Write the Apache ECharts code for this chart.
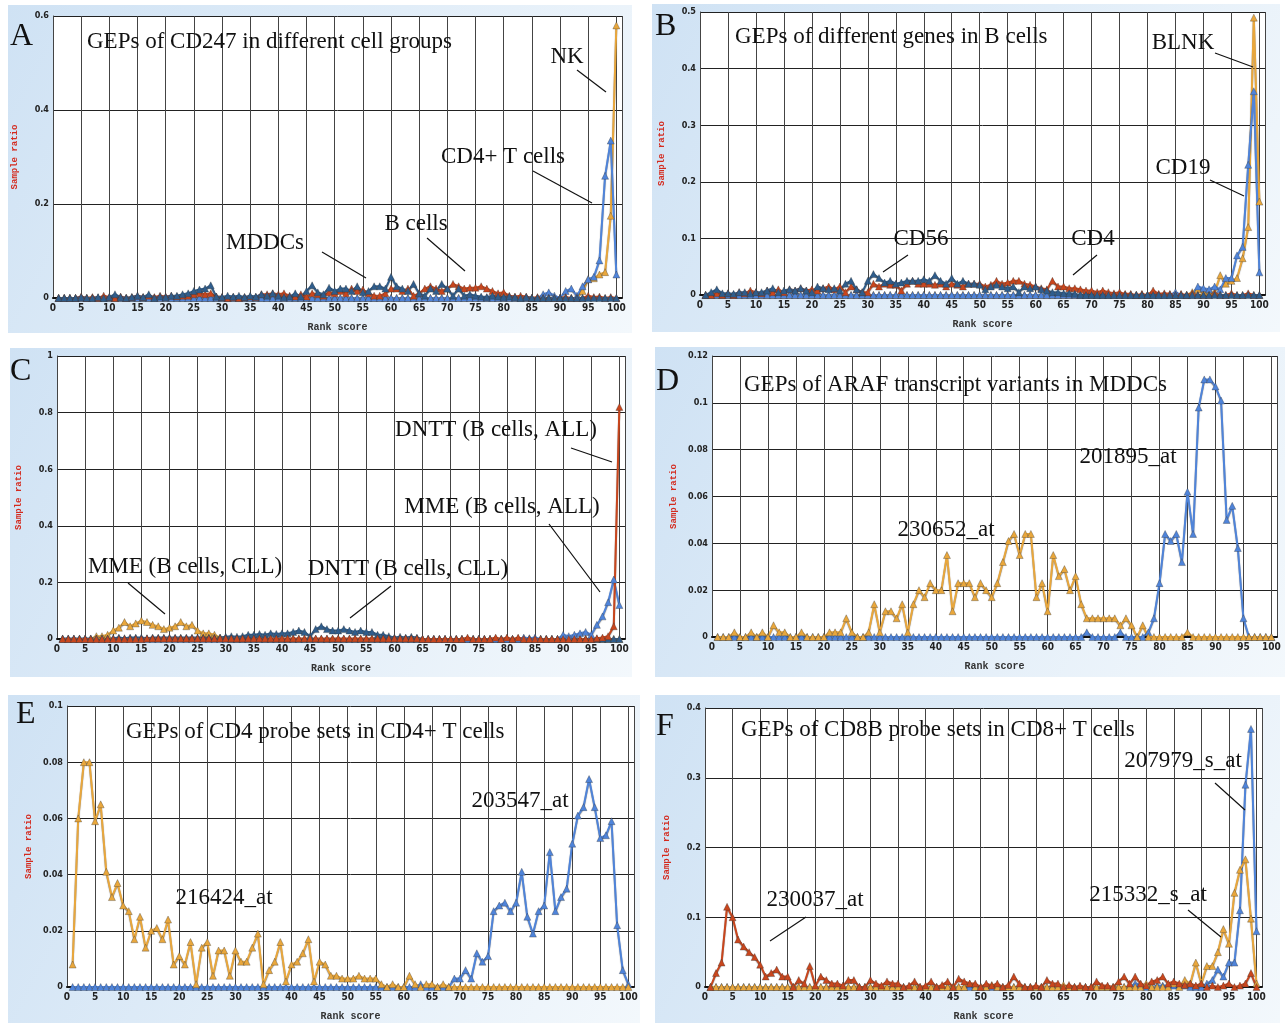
<!DOCTYPE html>
<html>
<head>
<meta charset="utf-8">
<script src="https://cdn.jsdelivr.net/npm/echarts@6/dist/echarts.min.js"></script>
<style>
  html, body { margin: 0; padding: 0; background: #fff; }
  #main { width: 1288px; height: 1023px; }
</style>
</head>
<body>
<div id="main"></div>
<script>
// rank scores 1..100 on the x axis
const ranks = Array.from({ length: 100 }, (_, i) => i + 1)
const xTicks = [0, 5, 10, 15, 20, 25, 30, 35, 40, 45, 50, 55, 60, 65, 70, 75, 80, 85, 90, 95, 100]

// panel A: CD247
const aBcells = [
  0, 0, 0, 0, 0.003, 0, 0.002, 0, 0.005, 0.002,
  0, 0.003, 0, 0.002, 0.005, 0.002, 0.005, 0.002, 0.005, 0.003,
  0.005, 0.003, 0.005, 0.005, 0.008, 0.01, 0.008, 0.01, 0.003, 0.002,
  0, 0.002, 0, 0.002, 0.003, 0.002, 0.008, 0.008, 0.01, 0.008,
  0.01, 0.005, 0.003, 0.008, 0.003, 0.01, 0.008, 0.005, 0.012, 0.01,
  0.015, 0.01, 0.02, 0.015, 0.018, 0.01, 0.005, 0.005, 0.01, 0.02,
  0.02, 0.015, 0.02, 0.005, 0.01, 0.02, 0.025, 0.02, 0.015, 0.02,
  0.03, 0.025, 0.02, 0.022, 0.022, 0.025, 0.02, 0.015, 0.01, 0.012,
  0.005, 0.003, 0.005, 0.003, 0, 0.002, 0, 0, 0, 0,
  0.002, 0, 0, 0, 0.005, 0.002, 0.003, 0, 0.002, 0
]
const aMDDCs = [
  0, 0, 0, 0, 0.002, 0, 0, 0.002, 0, 0.002,
  0.008, 0.002, 0, 0.002, 0.005, 0.002, 0.008, 0, 0.003, 0.002,
  0.005, 0.005, 0.008, 0.01, 0.015, 0.018, 0.02, 0.027, 0.003, 0.002,
  0.005, 0.003, 0.005, 0.002, 0.005, 0.003, 0.008, 0.005, 0.01, 0.005,
  0.002, 0.003, 0.01, 0.003, 0.015, 0.027, 0.012, 0.008, 0.022, 0.015,
  0.02, 0.02, 0.015, 0.025, 0.012, 0.015, 0.025, 0.025, 0.02, 0.045,
  0.025, 0.02, 0.015, 0.03, 0.01, 0.005, 0.02, 0.015, 0.03, 0.02,
  0.005, 0.02, 0.005, 0.008, 0.005, 0.003, 0.002, 0.005, 0.003, 0.002,
  0.003, 0.002, 0, 0.002, 0, 0, 0, 0, 0, 0,
  0, 0, 0, 0, 0, 0, 0, 0, 0, 0
]
const aCD4T = [
  0, 0, 0, 0, 0, 0, 0, 0, 0, 0,
  0, 0, 0, 0, 0, 0, 0, 0, 0, 0,
  0, 0, 0, 0, 0, 0, 0, 0, 0, 0,
  0, 0, 0, 0, 0, 0, 0, 0, 0, 0,
  0, 0, 0, 0, 0, 0, 0, 0, 0, 0,
  0, 0, 0, 0, 0, 0, 0, 0, 0, 0,
  0, 0, 0, 0, 0, 0, 0, 0, 0, 0,
  0, 0, 0, 0, 0, 0, 0, 0, 0, 0,
  0, 0, 0, 0, 0, 0, 0.008, 0.012, 0.005, 0,
  0.015, 0.02, 0.005, 0.025, 0.04, 0.045, 0.08, 0.26, 0.335, 0.05
]
const aNK = [
  0, 0, 0, 0, 0, 0, 0, 0, 0, 0,
  0, 0, 0, 0, 0, 0, 0, 0, 0, 0,
  0, 0, 0, 0, 0, 0, 0, 0, 0, 0,
  0, 0, 0, 0, 0, 0, 0, 0, 0, 0,
  0, 0, 0, 0, 0, 0, 0, 0, 0, 0,
  0, 0, 0, 0, 0, 0, 0, 0, 0, 0,
  0, 0, 0, 0, 0, 0, 0, 0, 0, 0,
  0, 0, 0, 0, 0, 0, 0, 0, 0, 0,
  0, 0, 0, 0, 0, 0, 0, 0, 0, 0,
  0, 0, 0, 0.015, 0.04, 0.042, 0.05, 0.055, 0.175, 0.58
]

// panel B: genes in B cells
const bCD4 = [
  0, 0, 0.003, 0, 0.003, 0, 0.005, 0.003, 0.008, 0.005,
  0.003, 0.008, 0.005, 0.01, 0.005, 0.01, 0.008, 0.012, 0.008, 0.01,
  0.008, 0.012, 0.015, 0.01, 0.015, 0.005, 0.015, 0.01, 0.005, 0.005,
  0.02, 0.015, 0.02, 0.018, 0.018, 0.008, 0.02, 0.025, 0.02, 0.02,
  0.02, 0.018, 0.02, 0.015, 0.02, 0.018, 0.015, 0.02, 0.02, 0.02,
  0.015, 0.018, 0.025, 0.02, 0.022, 0.025, 0.025, 0.02, 0.018, 0.015,
  0.012, 0.01, 0.025, 0.015, 0.015, 0.012, 0.012, 0.01, 0.008, 0.008,
  0.005, 0.008, 0.005, 0.003, 0.005, 0.002, 0.002, 0, 0.002, 0,
  0.008, 0.002, 0.003, 0.002, 0, 0.002, 0, 0.003, 0, 0,
  0, 0.003, 0, 0, 0.003, 0, 0, 0.003, 0, 0
]
const bCD56 = [
  0, 0.005, 0.01, 0.003, 0.003, 0.002, 0.005, 0.005, 0.003, 0.005,
  0.005, 0.008, 0.012, 0.005, 0.008, 0.01, 0.008, 0.012, 0.008, 0.005,
  0.015, 0.012, 0.01, 0.012, 0.008, 0.02, 0.025, 0.01, 0.005, 0.025,
  0.037, 0.03, 0.022, 0.025, 0.02, 0.022, 0.025, 0.025, 0.025, 0.028,
  0.025, 0.035, 0.025, 0.02, 0.03, 0.02, 0.025, 0.02, 0.02, 0.018,
  0.01, 0.015, 0.018, 0.015, 0.012, 0.015, 0.005, 0.015, 0.012, 0.015,
  0.01, 0.008, 0.005, 0.005, 0.003, 0.003, 0.002, 0, 0, 0,
  0, 0, 0, 0, 0, 0, 0, 0, 0, 0,
  0, 0, 0, 0, 0, 0, 0, 0, 0, 0,
  0, 0, 0, 0, 0, 0, 0, 0, 0, 0
]
const bCD19 = [
  0, 0, 0, 0, 0, 0, 0, 0, 0, 0,
  0, 0, 0, 0, 0, 0, 0, 0, 0, 0,
  0, 0, 0, 0, 0, 0, 0, 0, 0, 0,
  0, 0, 0, 0, 0, 0, 0, 0, 0, 0,
  0, 0, 0, 0, 0, 0, 0, 0, 0, 0,
  0, 0, 0, 0, 0, 0, 0, 0, 0, 0,
  0, 0, 0, 0, 0, 0, 0, 0, 0, 0,
  0, 0, 0, 0, 0, 0, 0, 0, 0, 0,
  0, 0, 0, 0, 0.005, 0, 0, 0, 0.015, 0.012,
  0.01, 0.015, 0.01, 0.03, 0.03, 0.07, 0.085, 0.23, 0.36, 0.04
]
const bBLNK = [
  0, 0, 0, 0, 0, 0, 0, 0, 0, 0,
  0, 0, 0, 0, 0, 0, 0, 0, 0, 0,
  0, 0, 0, 0, 0, 0, 0, 0, 0, 0,
  0, 0, 0, 0, 0, 0, 0, 0, 0, 0,
  0, 0, 0, 0, 0, 0, 0, 0, 0, 0,
  0, 0, 0, 0, 0, 0, 0, 0, 0, 0,
  0, 0, 0, 0, 0, 0, 0, 0, 0, 0,
  0, 0, 0, 0, 0, 0, 0, 0, 0, 0,
  0, 0, 0, 0, 0, 0, 0, 0.005, 0.01, 0.005,
  0.005, 0.005, 0.035, 0.02, 0.025, 0.03, 0.065, 0.12, 0.49, 0.165
]

// panel C: MME / DNTT in ALL and CLL
const cMmeCLL = [
  0, 0, 0, 0, 0, 0, 0.01, 0.01, 0.015, 0.03,
  0.04, 0.06, 0.045, 0.055, 0.065, 0.06, 0.05, 0.045, 0.035, 0.04,
  0.045, 0.06, 0.045, 0.05, 0.03, 0.02, 0.02, 0.015, 0.005, 0.005,
  0, 0, 0, 0, 0, 0, 0, 0, 0, 0,
  0, 0, 0, 0, 0, 0, 0, 0, 0, 0,
  0, 0, 0, 0, 0, 0, 0, 0, 0, 0,
  0, 0, 0, 0, 0, 0, 0, 0, 0, 0,
  0, 0, 0, 0, 0, 0, 0, 0, 0, 0,
  0, 0, 0, 0, 0, 0, 0, 0, 0, 0,
  0, 0, 0, 0, 0, 0, 0, 0, 0, 0
]
const cDnttCLL = [
  0.002, 0.002, 0.002, 0.002, 0.002, 0.002, 0.002, 0.002, 0.002, 0.003,
  0.005, 0.003, 0.005, 0.005, 0.005, 0.003, 0.005, 0.005, 0.005, 0.005,
  0.005, 0.005, 0.005, 0.005, 0.005, 0.005, 0.005, 0.005, 0.005, 0.008,
  0.01, 0.008, 0.01, 0.015, 0.015, 0.018, 0.015, 0.02, 0.018, 0.02,
  0.02, 0.025, 0.03, 0.025, 0.01, 0.035, 0.045, 0.035, 0.03, 0.03,
  0.035, 0.03, 0.025, 0.03, 0.025, 0.025, 0.015, 0.015, 0.01, 0.005,
  0.008, 0.005, 0.008, 0.005, 0, 0, 0, 0, 0, 0,
  0, 0, 0, 0, 0, 0, 0, 0, 0, 0,
  0, 0, 0, 0, 0, 0, 0, 0, 0, 0,
  0, 0, 0, 0, 0, 0, 0, 0, 0, 0
]
const cMmeALL = [
  0, 0, 0, 0, 0, 0, 0, 0, 0, 0,
  0, 0, 0, 0, 0, 0, 0, 0, 0, 0,
  0, 0, 0, 0, 0, 0, 0, 0, 0, 0,
  0, 0, 0, 0, 0, 0, 0, 0, 0, 0,
  0, 0, 0, 0, 0, 0, 0, 0, 0, 0,
  0, 0, 0, 0, 0, 0, 0, 0, 0, 0,
  0, 0, 0, 0, 0, 0, 0, 0, 0, 0,
  0, 0, 0, 0, 0, 0, 0, 0, 0, 0,
  0, 0, 0.005, 0.003, 0.005, 0, 0, 0, 0, 0.015,
  0.01, 0.015, 0.02, 0.025, 0.015, 0.05, 0.08, 0.13, 0.21, 0.12
]
const cDnttALL = [
  0, 0, 0, 0, 0, 0, 0, 0, 0, 0,
  0, 0, 0, 0, 0, 0.002, 0.002, 0.002, 0.002, 0.002,
  0.002, 0.002, 0.002, 0.002, 0.002, 0.002, 0.002, 0.002, 0.002, 0.002,
  0.002, 0.002, 0.002, 0.002, 0.002, 0.002, 0.002, 0.002, 0.002, 0.002,
  0.002, 0.002, 0.002, 0.002, 0.002, 0.002, 0.002, 0.002, 0.002, 0.002,
  0.002, 0.002, 0.002, 0.002, 0.002, 0.002, 0.002, 0.002, 0.002, 0.002,
  0.002, 0.002, 0.002, 0.002, 0, 0, 0, 0, 0, 0,
  0, 0, 0.005, 0, 0, 0, 0, 0.005, 0, 0.005,
  0, 0.005, 0, 0, 0, 0, 0, 0, 0, 0,
  0, 0, 0, 0, 0, 0.003, 0.005, 0.01, 0.045, 0.82
]

// panel D: ARAF transcript variants
const d230652 = [
  0, 0, 0, 0.002, 0, 0, 0.002, 0, 0.002, 0,
  0.005, 0.002, 0.002, 0, 0, 0.002, 0, 0, 0, 0,
  0.002, 0.002, 0.002, 0.008, 0.002, 0, 0, 0.002, 0.014, 0.002,
  0.011, 0.011, 0.008, 0.014, 0.002, 0.014, 0.02, 0.017, 0.023, 0.02,
  0.02, 0.035, 0.011, 0.023, 0.023, 0.023, 0.017, 0.023, 0.02, 0.017,
  0.023, 0.032, 0.041, 0.044, 0.035, 0.044, 0.044, 0.017, 0.023, 0.011,
  0.035, 0.026, 0.029, 0.02, 0.026, 0.014, 0.008, 0.008, 0.008, 0.008,
  0.008, 0.008, 0.005, 0.008, 0.005, 0, 0.005, 0, 0, 0,
  0, 0, 0, 0, 0.002, 0, 0, 0, 0, 0,
  0, 0, 0, 0, 0, 0, 0, 0, 0, 0
]
const d201895 = [
  0, 0, 0, 0, 0, 0, 0, 0, 0, 0,
  0, 0, 0, 0, 0, 0, 0, 0, 0, 0,
  0, 0, 0, 0, 0, 0, 0, 0, 0, 0,
  0, 0, 0, 0, 0, 0, 0, 0, 0, 0,
  0, 0, 0, 0, 0, 0, 0, 0, 0, 0,
  0, 0, 0, 0, 0, 0, 0, 0, 0, 0,
  0, 0, 0, 0, 0, 0, 0.002, 0, 0, 0,
  0, 0, 0.002, 0, 0, 0, 0, 0.002, 0.008, 0.023,
  0.044, 0.041, 0.044, 0.032, 0.062, 0.044, 0.098, 0.11, 0.11, 0.107,
  0.101, 0.05, 0.056, 0.038, 0.008, 0, 0, 0, 0, 0
]

// panel E: CD4 probe sets
const e216424 = [
  0.008, 0.06, 0.08, 0.08, 0.059, 0.065, 0.041, 0.032, 0.037, 0.029,
  0.027, 0.017, 0.025, 0.014, 0.02, 0.021, 0.017, 0.024, 0.008, 0.011,
  0.008, 0.016, 0.001, 0.014, 0.016, 0.004, 0.013, 0.013, 0.004, 0.013,
  0.009, 0.009, 0.014, 0.019, 0.001, 0.006, 0.009, 0.016, 0.002, 0.008,
  0.009, 0.012, 0.017, 0.002, 0.009, 0.008, 0.004, 0.004, 0.003, 0.003,
  0.003, 0.004, 0.003, 0.003, 0.003, 0.001, 0, 0.001, 0, 0,
  0.004, 0.001, 0, 0.001, 0.001, 0, 0.001, 0, 0, 0,
  0, 0, 0, 0, 0, 0, 0, 0, 0, 0,
  0, 0, 0, 0, 0, 0, 0, 0, 0, 0,
  0, 0, 0, 0, 0, 0, 0, 0, 0, 0
]
const e203547 = [
  0, 0, 0, 0, 0, 0, 0, 0, 0, 0,
  0, 0, 0, 0, 0, 0, 0, 0, 0, 0,
  0, 0, 0, 0, 0, 0, 0, 0, 0, 0,
  0, 0, 0, 0, 0, 0, 0, 0, 0, 0,
  0, 0, 0, 0, 0, 0, 0, 0, 0, 0,
  0, 0, 0, 0, 0, 0, 0, 0, 0, 0,
  0, 0, 0.001, 0, 0, 0, 0, 0, 0.003, 0.003,
  0.006, 0.003, 0.012, 0.009, 0.011, 0.027, 0.029, 0.03, 0.027, 0.03,
  0.041, 0.025, 0.019, 0.027, 0.029, 0.048, 0.027, 0.032, 0.035, 0.051,
  0.061, 0.064, 0.074, 0.064, 0.053, 0.054, 0.059, 0.022, 0.006, 0.001
]

// panel F: CD8B probe sets
const f230037 = [
  0, 0.02, 0.035, 0.115, 0.1, 0.068, 0.058, 0.05, 0.043, 0.032,
  0.015, 0.02, 0.025, 0.015, 0.015, 0, 0.01, 0.005, 0.03, 0.002,
  0.015, 0.01, 0.005, 0.005, 0.002, 0.01, 0.01, 0, 0, 0.01,
  0.005, 0.002, 0.008, 0.005, 0.005, 0, 0.002, 0.008, 0, 0.002,
  0.008, 0, 0.003, 0.008, 0, 0.012, 0.008, 0.005, 0.005, 0,
  0.005, 0.002, 0.005, 0, 0.003, 0.015, 0.005, 0, 0, 0.002,
  0, 0.01, 0.005, 0.005, 0, 0.003, 0, 0.002, 0, 0,
  0.008, 0.002, 0.002, 0, 0.008, 0.015, 0.005, 0.015, 0.005, 0.002,
  0.008, 0.01, 0.015, 0.005, 0.008, 0.005, 0.003, 0.005, 0.002, 0.005,
  0, 0.002, 0, 0.002, 0.005, 0, 0.002, 0.005, 0.02, 0
]
const f215332 = [
  0, 0, 0, 0, 0, 0, 0, 0, 0, 0,
  0, 0, 0, 0, 0, 0, 0, 0, 0, 0,
  0, 0, 0, 0, 0, 0, 0, 0, 0, 0,
  0, 0, 0, 0, 0, 0, 0, 0, 0, 0,
  0, 0, 0, 0, 0, 0, 0, 0.005, 0, 0,
  0, 0.003, 0, 0, 0, 0, 0, 0, 0, 0,
  0, 0, 0, 0, 0.003, 0, 0, 0, 0, 0,
  0, 0, 0, 0, 0, 0, 0, 0, 0, 0.005,
  0, 0, 0, 0, 0.005, 0, 0.01, 0.005, 0.035, 0.005,
  0.03, 0.03, 0.05, 0.083, 0.062, 0.135, 0.168, 0.183, 0.098, 0.005
]
const f207979 = [
  0, 0, 0, 0, 0, 0, 0, 0, 0, 0,
  0, 0, 0, 0, 0, 0, 0, 0, 0, 0,
  0, 0, 0, 0, 0, 0, 0, 0, 0, 0,
  0, 0, 0, 0, 0, 0, 0, 0, 0, 0,
  0, 0, 0, 0, 0, 0, 0, 0, 0, 0,
  0, 0, 0, 0, 0, 0, 0, 0, 0, 0,
  0, 0, 0, 0, 0, 0, 0, 0, 0, 0,
  0, 0, 0, 0, 0, 0, 0, 0.005, 0.003, 0,
  0, 0.002, 0.002, 0.002, 0.002, 0.002, 0.002, 0, 0, 0,
  0.005, 0.01, 0.025, 0.015, 0.035, 0.035, 0.11, 0.29, 0.37, 0.08
]

// y axis top and step per panel
const yMax = [0.6, 0.5, 1, 0.12, 0.1, 0.4]
const yStep = [0.2, 0.1, 0.2, 0.02, 0.02, 0.1]

const RED = '#c9461d', DARK = '#2f5d8c', LIGHT = '#4f84da', GOLD = '#e9a73c'

const panels = [
  { letter: 'A', title: 'GEPs of CD247 in different cell groups',
    box: [8, 5, 624, 328], grid: { left: 53, top: 16, width: 569, height: 282 },
    series: [[aNK, GOLD], [aCD4T, LIGHT], [aBcells, RED], [aMDDCs, DARK]],
    letterPos: [22, 40], titlePos: [87, 43],
    notes: [['NK', 567, 57, [577, 70, 606, 92]], ['CD4+ T cells', 503, 157, [533, 171, 592, 203]],
      ['B cells', 416, 224, [427, 238, 465, 271]], ['MDDCs', 265, 243, [322, 252, 366, 278]]] },
  { letter: 'B', title: 'GEPs of different genes in B cells',
    box: [652, 4, 628, 328], grid: { left: 700, top: 12, width: 565, height: 283 },
    series: [[bBLNK, GOLD], [bCD19, LIGHT], [bCD4, RED], [bCD56, DARK]],
    letterPos: [667, 30], titlePos: [735, 38],
    notes: [['BLNK', 1183, 43, [1215, 53, 1253, 67]], ['CD19', 1183, 168, [1210, 180, 1244, 196]],
      ['CD56', 921, 239, [908, 255, 883, 272]], ['CD4', 1093, 239, [1097, 255, 1073, 275]]] },
  { letter: 'C', title: '',
    box: [10, 348, 622, 329], grid: { left: 57, top: 356, width: 568, height: 283 },
    series: [[cMmeCLL, GOLD], [cDnttCLL, DARK], [cMmeALL, LIGHT], [cDnttALL, RED]],
    letterPos: [22, 375], titlePos: null,
    notes: [['DNTT (B cells, ALL)', 496, 430, [571, 448, 612, 462]], ['MME (B cells, ALL)', 502, 507, [549, 524, 600, 592]],
      ['MME (B cells, CLL)', 185, 567, [128, 583, 165, 614]], ['DNTT (B cells, CLL)', 408, 569, [391, 586, 350, 618]]] },
  { letter: 'D', title: 'GEPs of ARAF transcript variants in MDDCs',
    box: [655, 347, 630, 330], grid: { left: 712, top: 356, width: 565, height: 281 },
    series: [[d201895, LIGHT], [d230652, GOLD]],
    letterPos: [668, 385], titlePos: [744, 386],
    notes: [['230652_at', 946, 530], ['201895_at', 1128, 457]] },
  { letter: 'E', title: 'GEPs of CD4 probe sets in CD4+ T cells',
    box: [8, 695, 632, 328], grid: { left: 67, top: 706, width: 567, height: 281 },
    series: [[e203547, LIGHT], [e216424, GOLD]],
    letterPos: [28, 718], titlePos: [126, 733],
    notes: [['216424_at', 224, 898], ['203547_at', 520, 801]] },
  { letter: 'F', title: 'GEPs of CD8B probe sets in CD8+ T cells',
    box: [655, 695, 625, 328], grid: { left: 705, top: 708, width: 557, height: 279 },
    series: [[f207979, LIGHT], [f215332, GOLD], [f230037, RED]],
    letterPos: [668, 730], titlePos: [741, 731],
    notes: [['230037_at', 815, 900, [770, 941, 806, 917]], ['207979_s_at', 1183, 761, [1215, 783, 1245, 810]],
      ['215332_s_at', 1148, 895, [1188, 910, 1221, 937]]] }
]

const serif = '"Liberation Serif", "Times New Roman", serif'
const narrow = '"Liberation Sans Narrow", "DejaVu Sans Condensed", "Arial Narrow", sans-serif'
const mono = '"Liberation Mono", "DejaVu Sans Mono", monospace'

const grids = [], xAxes = [], yAxes = [], series = [], graphics = []

panels.forEach((p, i) => {
  grids.push(Object.assign({ show: true, backgroundColor: '#fff', borderWidth: 0 }, p.grid))
  xAxes.push({
    type: 'value', gridIndex: i, min: 0, max: 101, interval: 5,
    name: 'Rank score', nameLocation: 'middle', nameGap: 24,
    nameTextStyle: { fontFamily: mono, fontWeight: 'bold', fontSize: 10, color: '#333' },
    axisLine: { show: true, lineStyle: { color: '#111', width: 2 } },
    axisTick: { show: false },
    axisLabel: {
      margin: 5, fontFamily: narrow, fontWeight: 'bold', fontSize: 10, color: '#222',
      formatter: v => xTicks.includes(v) ? String(v) : ''
    },
    splitLine: { show: true, lineStyle: { color: '#444', width: 1 } }
  })
  yAxes.push({
    type: 'value', gridIndex: i, min: 0, max: yMax[i], interval: yStep[i],
    name: 'Sample ratio', nameLocation: 'middle', nameGap: 34, nameRotate: 90,
    nameTextStyle: { fontFamily: mono, fontWeight: 'bold', fontSize: 9, color: '#d42a1e' },
    axisLine: { show: true, lineStyle: { color: '#444', width: 1 } },
    axisTick: { show: false },
    axisLabel: { margin: 4, fontFamily: narrow, fontWeight: 'bold', fontSize: 9, color: '#222' },
    splitLine: { show: true, lineStyle: { color: '#222', width: 1 } }
  })
  p.series.forEach(([vals, color]) => {
    series.push({
      type: 'line', xAxisIndex: i, yAxisIndex: i,
      data: vals.map((v, k) => [ranks[k], v]),
      symbol: 'triangle', symbolSize: 7, showSymbol: true, showAllSymbol: true,
      clip: false, animation: false,
      lineStyle: { color, width: 2, shadowColor: 'rgba(0,0,0,0.45)', shadowBlur: 1, shadowOffsetY: 1 },
      itemStyle: { color, borderColor: 'rgba(50,50,50,0.55)', borderWidth: 0.6 }
    })
  })

  // panel frame with pale blue wash
  graphics.push({
    type: 'rect', z: -10, silent: true,
    shape: { x: p.box[0], y: p.box[1], width: p.box[2], height: p.box[3] },
    style: {
      fill: new echarts.graphic.LinearGradient(0, 0, 1, 1, [
        { offset: 0, color: '#cfe2f4' }, { offset: 1, color: '#f3f8fc' }
      ])
    }
  })
  graphics.push({
    type: 'text', z: 100, left: p.letterPos[0] - 12, top: p.letterPos[1] - 19,
    style: { text: p.letter, font: '32px ' + serif, fill: '#111' }
  })
  if (p.title) {
    graphics.push({
      type: 'text', z: 100, left: p.titlePos[0], top: p.titlePos[1] - 13,
      style: { text: p.title, font: '23px ' + serif, fill: '#111' }
    })
  }
  p.notes.forEach(n => {
    graphics.push({
      type: 'text', z: 100, x: n[1], y: n[2],
      style: { text: n[0], font: '23px ' + serif, fill: '#111', textAlign: 'center', textVerticalAlign: 'middle' }
    })
    if (n[3]) {
      graphics.push({
        type: 'line', z: 100, silent: true,
        shape: { x1: n[3][0], y1: n[3][1], x2: n[3][2], y2: n[3][3] },
        style: { stroke: '#111', lineWidth: 1.2 }
      })
    }
  })
})

const chart = echarts.init(document.getElementById('main'))
chart.setOption({
  animation: false,
  backgroundColor: '#fff',
  grid: grids,
  xAxis: xAxes,
  yAxis: yAxes,
  series: series,
  graphic: graphics
})
</script>
</body>
</html>
